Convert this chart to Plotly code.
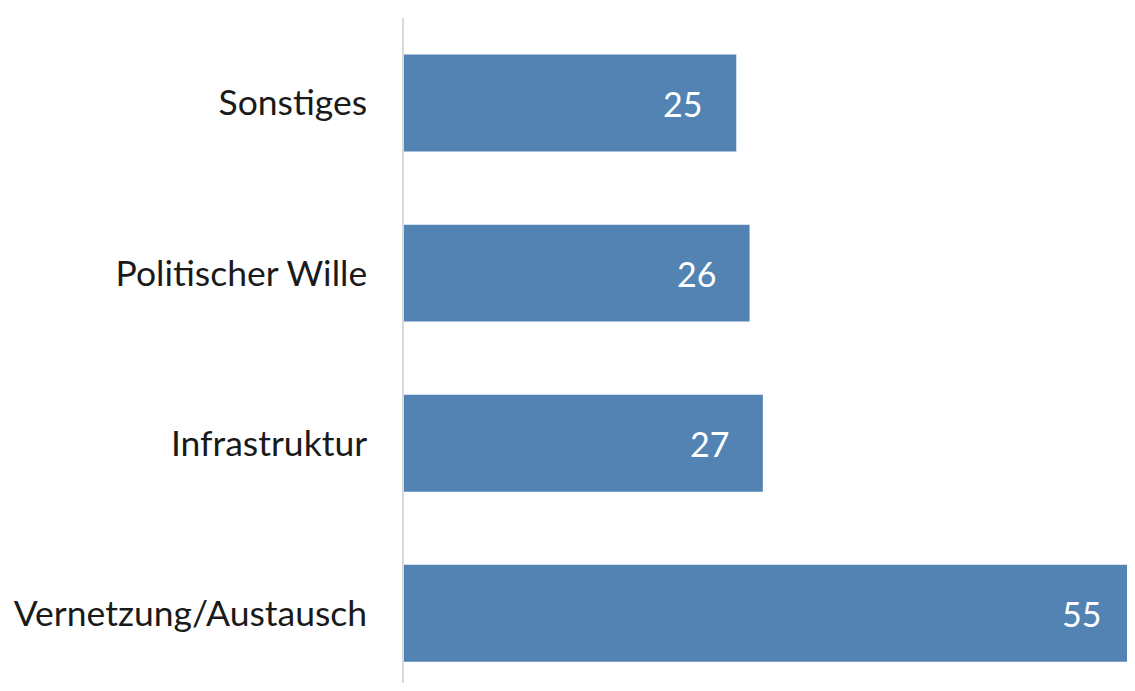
import plotly.graph_objects as go

categories = ["Vernetzung/Austausch", "Infrastruktur", "Politischer Wille", "Sonstiges"]
values = [55, 27, 26, 25]

BAR_COLOR = "#5383b3"
FONT = "Lato, 'Open Sans', sans-serif"

fig = go.Figure()
fig.add_trace(
    go.Bar(
        x=values,
        y=categories,
        orientation="h",
        marker=dict(color=BAR_COLOR, line=dict(width=0)),
        hoverinfo="x+y",
    )
)

# Werte innen am Balkenende
for cat, val in zip(categories, values):
    fig.add_annotation(
        x=val,
        y=cat,
        text=str(val),
        showarrow=False,
        xanchor="right",
        xshift=-32,
        font=dict(family=FONT, size=34, color="white"),
    )

fig.update_layout(
    width=1127,
    height=675,
    paper_bgcolor="white",
    plot_bgcolor="white",
    margin=dict(l=396, r=0, t=10, b=0),
    bargap=0.43,
    showlegend=False,
    font=dict(family=FONT, size=35, color="#1a1a1a"),
)
fig.update_xaxes(
    range=[0, 55],
    visible=False,
    showgrid=False,
    zeroline=False,
)
fig.update_yaxes(
    range=[-0.41, 3.5],
    showline=True,
    linecolor="#d9d9d9",
    linewidth=1.5,
    showgrid=False,
    ticks="",
    ticklabelstandoff=28,
    tickfont=dict(family=FONT, size=35.5, color="#1a1a1a"),
)

fig.write_html("out.html")
